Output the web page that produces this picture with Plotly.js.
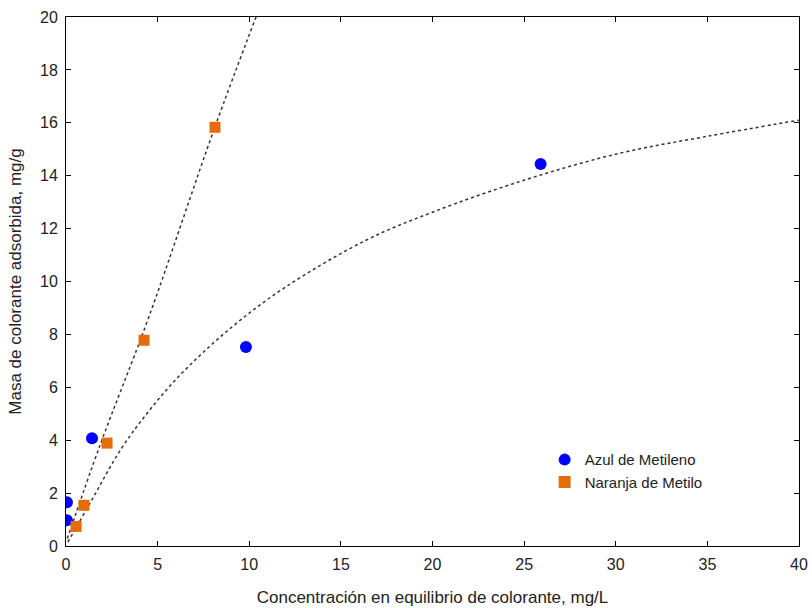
<!DOCTYPE html>
<html>
<head>
<meta charset="utf-8">
<script src="https://cdn.plot.ly/plotly-3.0.1.min.js"></script>
<style>html,body{margin:0;padding:0;background:#fff;}#chart{width:812px;height:608px;}</style>
</head>
<body>
<div id="chart"></div>
<script>
// Measured points
const azulX = [0.05, 0.05, 1.42, 9.82, 25.9];
const azulY = [0.97, 1.65, 4.07, 7.52, 14.44];
const naranjaX = [0.55, 0.98, 2.24, 4.26, 8.13];
const naranjaY = [0.74, 1.54, 3.89, 7.78, 15.83];

// Fitted curves
const fitAzulX = [0.1, 1.4, 3, 4.5, 6.22, 8.95, 12, 16.4, 20, 25.13, 30.22, 35, 40];
const fitAzulY = [0.15, 1.73, 3.66, 5.08, 6.46, 8.22, 9.8, 11.57, 12.62, 13.86, 14.85, 15.49, 16.1];
const fitNaranjaX = [0.07, 1.85, 4.49, 8.13, 10.37];
const fitNaranjaY = [0.28, 3.8, 8.6, 15.85, 20];

const xTicks = [0, 5, 10, 15, 20, 25, 30, 35, 40];
const yTicks = [0, 2, 4, 6, 8, 10, 12, 14, 16, 18, 20];

const lineStyle = {color: '#333', width: 1.5, dash: '3px,3px', shape: 'spline'};

const traces = [
  {x: fitAzulX, y: fitAzulY, mode: 'lines', line: lineStyle, showlegend: false, hoverinfo: 'skip'},
  {x: fitNaranjaX, y: fitNaranjaY, mode: 'lines', line: lineStyle, showlegend: false, hoverinfo: 'skip'},
  {x: azulX, y: azulY, mode: 'markers', name: 'Azul de Metileno',
   marker: {symbol: 'circle', size: 12, color: '#0000FF'}},
  {x: naranjaX, y: naranjaY, mode: 'markers', name: 'Naranja de Metilo',
   marker: {symbol: 'square', size: 11, color: '#E46C0A'}}
];

const axisCommon = {
  showgrid: false, zeroline: false, showline: true, linecolor: '#000', linewidth: 1,
  mirror: 'ticks', ticks: 'inside', ticklen: 5, tickcolor: '#000', ticklabelstandoff: 4,
  tickfont: {family: 'Liberation Sans, Arial, sans-serif', size: 16, color: '#222'}
};

const layout = {
  width: 812, height: 608,
  margin: {l: 66, r: 13, t: 17, b: 62},
  paper_bgcolor: '#fff', plot_bgcolor: '#fff',
  font: {family: 'Liberation Sans, Arial, sans-serif', color: '#222'},
  xaxis: Object.assign({}, axisCommon, {
    range: [0, 40], tickvals: xTicks, ticktext: xTicks.map(String),
    title: {text: 'Concentración en equilibrio de colorante, mg/L', font: {size: 17, color: '#222'}, standoff: 18}
  }),
  yaxis: Object.assign({}, axisCommon, {
    range: [0, 20], tickvals: yTicks, ticktext: yTicks.map(String),
    title: {text: 'Masa de colorante adsorbida, mg/g', font: {size: 17, color: '#222'}, standoff: 14}
  }),
  legend: {x: 0.653, y: 0.194, xanchor: 'left', yanchor: 'top', bgcolor: 'rgba(0,0,0,0)',
           font: {size: 15, color: '#222'}, itemsizing: 'constant', tracegroupgap: 0},
  showlegend: true
};

Plotly.newPlot('chart', traces, layout, {displayModeBar: false, staticPlot: true});
</script>
</body>
</html>
